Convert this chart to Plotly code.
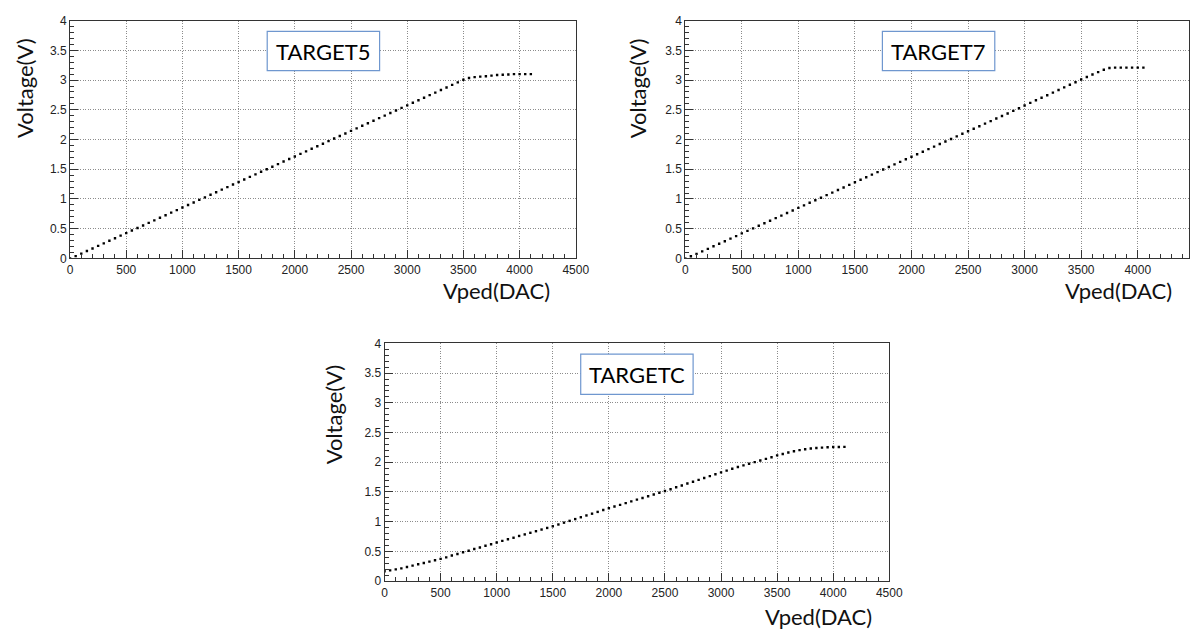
import plotly.graph_objects as go

W, H = 1203, 638

vped_t5 = list(range(0, 4101, 50))
volt_t5 = [0.00, 0.038, 0.08, 0.125, 0.167, 0.21, 0.253, 0.296, 0.339, 0.382,
           0.425, 0.468, 0.511, 0.554, 0.597, 0.64, 0.683, 0.726, 0.769, 0.812,
           0.855, 0.898, 0.941, 0.984, 1.027, 1.07, 1.113, 1.156, 1.199, 1.242,
           1.285, 1.328, 1.371, 1.414, 1.457, 1.50, 1.543, 1.586, 1.629, 1.672,
           1.715, 1.758, 1.801, 1.844, 1.887, 1.93, 1.973, 2.016, 2.059, 2.102,
           2.145, 2.188, 2.231, 2.274, 2.317, 2.36, 2.403, 2.446, 2.489, 2.532,
           2.575, 2.618, 2.661, 2.704, 2.747, 2.79, 2.833, 2.876, 2.919, 2.962,
           3.005, 3.035, 3.05, 3.058, 3.065, 3.075, 3.085, 3.09, 3.095, 3.10,
           3.10, 3.10, 3.10]

vped_t7 = list(range(0, 4051, 50))
volt_t7 = [0.00, 0.035, 0.075, 0.118, 0.16, 0.203, 0.246, 0.289, 0.332, 0.375,
           0.42, 0.462, 0.505, 0.548, 0.591, 0.634, 0.677, 0.72, 0.763, 0.806,
           0.849, 0.892, 0.935, 0.978, 1.021, 1.064, 1.107, 1.15, 1.193, 1.236,
           1.28, 1.323, 1.366, 1.409, 1.452, 1.495, 1.538, 1.581, 1.624, 1.667,
           1.709, 1.752, 1.795, 1.838, 1.881, 1.924, 1.967, 2.01, 2.053, 2.096,
           2.138, 2.181, 2.224, 2.267, 2.31, 2.353, 2.396, 2.439, 2.482, 2.526,
           2.572, 2.616, 2.66, 2.703, 2.746, 2.79, 2.834, 2.878, 2.921, 2.965,
           3.01, 3.052, 3.095, 3.135, 3.175, 3.205, 3.21, 3.21, 3.21, 3.21,
           3.21, 3.21]

vped_tc = list(range(0, 4101, 50))
volt_tc = [0.165, 0.18, 0.197, 0.215, 0.237, 0.26, 0.283, 0.305, 0.328, 0.351,
           0.374, 0.40, 0.43, 0.457, 0.485, 0.51, 0.54, 0.567, 0.595, 0.62,
           0.649, 0.677, 0.704, 0.73, 0.76, 0.786, 0.813, 0.84, 0.868, 0.895,
           0.923, 0.953, 0.984, 1.014, 1.044, 1.075, 1.105, 1.135, 1.165, 1.196,
           1.226, 1.255, 1.284, 1.313, 1.342, 1.371, 1.40, 1.429, 1.458, 1.487,
           1.516, 1.547, 1.579, 1.61, 1.642, 1.673, 1.704, 1.736, 1.767, 1.799,
           1.83, 1.86, 1.89, 1.92, 1.948, 1.976, 2.003, 2.03, 2.057, 2.085,
           2.116, 2.14, 2.165, 2.185, 2.205, 2.22, 2.232, 2.24, 2.247, 2.252,
           2.256, 2.258, 2.26]

labels = ["TARGET5", "TARGET7", "TARGETC"]
x_ticks = [0, 500, 1000, 1500, 2000, 2500, 3000, 3500, 4000, 4500]
y_ticks = [0, 0.5, 1, 1.5, 2, 2.5, 3, 3.5, 4]
y_tick_text = ["0", "0.5", "1", "1.5", "2", "2.5", "3", "3.5", "4"]

# panel geometry in pixels: left, right, top, bottom, x-range max
panels = [
    (68, 581, 14, 257, 4500),
    (692, 1203, 14, 257, (1203 - 692) / 114.75 * 1000),
    (387, 899, 344, 587, 4500),
]
boxes = [(268, 382, 25, 65), (892, 1006, 25, 65), (586, 700, 355, 396)]
ytitles = [(22, 30), (643, 30), (335, 363)]
xtitles = [(557, 290), (1188, 290), (883, 623)]

series = [(vped_t5, volt_t5), (vped_t7, volt_t7), (vped_tc, volt_tc)]

fig = go.Figure()
shapes = []
annotations = []
tickfont = dict(family="Liberation Sans, Arial, sans-serif", size=12, color="#222")
titlefont = dict(family="Lato, Open Sans, sans-serif", size=22, color="#111")

for i, ((xs, ys), (l, r, t, b, xmax), box, yt, xt, lab) in enumerate(
        zip(series, panels, boxes, ytitles, xtitles, labels)):
    n = "" if i == 0 else str(i + 1)
    fig.add_trace(go.Scatter(x=xs, y=ys, mode="markers", xaxis="x" + n, yaxis="y" + n,
                             marker=dict(symbol="square", size=2.4, color="black",
                                         line=dict(width=0)),
                             showlegend=False, hoverinfo="x+y"))
    common = dict(showline=True, linecolor="#333", linewidth=1, mirror=True,
                  ticks="inside", tickcolor="#333", tickwidth=1,
                  showgrid=True, gridcolor="#8c8c8c", griddash="1px,1.5px", gridwidth=1,
                  zeroline=False, tickfont=tickfont)
    fig.layout["xaxis" + n] = dict(
        domain=[l / W, r / W], range=[0, xmax], anchor="y" + n,
        tickvals=x_ticks, ticktext=[str(v) for v in x_ticks], ticklen=8,
        minor=dict(ticks="inside", dtick=100, ticklen=4, tickcolor="#333", showgrid=False),
        **common)
    fig.layout["yaxis" + n] = dict(
        domain=[1 - b / H, 1 - t / H], range=[0, 4], anchor="x" + n,
        tickvals=y_ticks, ticktext=y_tick_text, ticklen=8,
        minor=dict(ticks="inside", dtick=0.1, ticklen=4, tickcolor="#333", showgrid=False),
        **common)
    bx0, bx1, by0, by1 = box
    shapes.append(dict(type="rect", xref="paper", yref="paper",
                       x0=bx0 / W, x1=bx1 / W, y0=1 - by1 / H, y1=1 - by0 / H,
                       line=dict(color="#6f97cf", width=1.2), fillcolor="white", layer="above"))
    annotations.append(dict(text=lab, xref="paper", yref="paper",
                            x=(bx0 + bx1) / 2 / W, y=1 - (by0 + by1) / 2 / H,
                            xanchor="center", yanchor="middle", showarrow=False,
                            font=dict(family="Lato, Open Sans, sans-serif", size=22, color="black")))
    annotations.append(dict(text="Voltage(V)", xref="paper", yref="paper",
                            x=yt[0] / W, y=1 - yt[1] / H, textangle=-90,
                            xanchor="center", yanchor="top", showarrow=False, font=titlefont))
    annotations.append(dict(text="Vped(DAC)", xref="paper", yref="paper",
                            x=xt[0] / W, y=1 - xt[1] / H,
                            xanchor="right", yanchor="middle", showarrow=False, font=titlefont))

fig.update_layout(width=W, height=H, margin=dict(l=0, r=0, t=0, b=0),
                  paper_bgcolor="white", plot_bgcolor="white",
                  shapes=shapes, annotations=annotations)

fig.write_html("out.html")
